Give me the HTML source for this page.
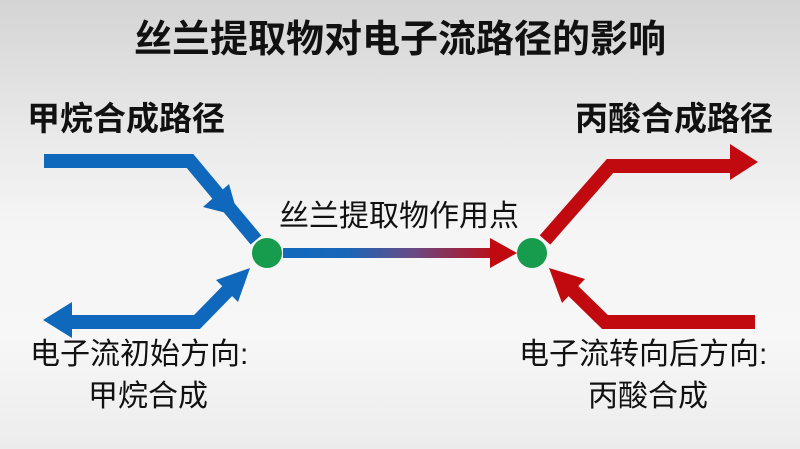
<!DOCTYPE html>
<html><head><meta charset="utf-8"><style>
html,body{margin:0;padding:0;}
body{width:800px;height:449px;overflow:hidden;position:relative;font-family:"Liberation Sans","Noto Sans CJK SC",sans-serif;
background:linear-gradient(180deg,#d4d4d4 0%,#e6e6e6 25%,#f5f5f5 50%,#f7f7f7 75%,#ececec 100%);}
.t{position:absolute;white-space:nowrap;color:#111;line-height:1;}
</style></head><body>
<svg width="800" height="449" style="position:absolute;left:0;top:0">
<defs><linearGradient id="g" x1="283" y1="0" x2="500" y2="0" gradientUnits="userSpaceOnUse">
<stop offset="0" stop-color="#1169bd"/><stop offset="0.3" stop-color="#1a66b8"/><stop offset="0.6" stop-color="#6a4a84"/><stop offset="1" stop-color="#c00a10"/></linearGradient></defs>
<g fill="none" stroke="#0f68bb" stroke-width="14" stroke-linejoin="miter">
<polyline points="44,161 190,161 256,240"/>
<polyline points="240,278 197,322 70,322"/>
</g>
<g fill="#0f68bb">
<polygon points="203,207 229,184 238,216"/>
<polygon points="43,320 72,302 72,338"/>
<polygon points="250,268 216,280 238,302"/>
</g>
<line x1="283" y1="253" x2="492" y2="253" stroke="url(#g)" stroke-width="10"/>
<polygon points="517,253 490,238 490,268" fill="#c00a10"/>
<g fill="none" stroke="#c00a10" stroke-width="14">
<polyline points="545,240 610,166 732,166"/>
<polyline points="755,322 605,322 560,278"/>
</g>
<g fill="#c00a10">
<polygon points="758,162 730,144 730,180"/>
<polygon points="549,268 562,303 585,279"/>
</g>
<circle cx="267" cy="253" r="15" fill="#169c4c"/>
<circle cx="532" cy="253" r="15" fill="#169c4c"/>
</svg>
<div class="t" style="left:0;width:800px;text-align:center;top:21px;font-size:38px;font-weight:bold;">丝兰提取物对电子流路径的影响</div>
<div class="t" style="left:27px;top:102px;font-size:33px;font-weight:bold;">甲烷合成路径</div>
<div class="t" style="left:575px;top:102px;font-size:33px;font-weight:bold;">丙酸合成路径</div>
<div class="t" style="left:279px;top:202px;font-size:30px;">丝兰提取物作用点</div>
<div class="t" style="left:30px;top:340px;font-size:30px;">电子流初始方向:</div>
<div class="t" style="left:28px;width:240px;text-align:center;top:382px;font-size:30px;">甲烷合成</div>
<div class="t" style="left:519px;top:340px;font-size:30px;">电子流转向后方向:</div>
<div class="t" style="left:528px;width:240px;text-align:center;top:382px;font-size:30px;">丙酸合成</div>
</body></html>
